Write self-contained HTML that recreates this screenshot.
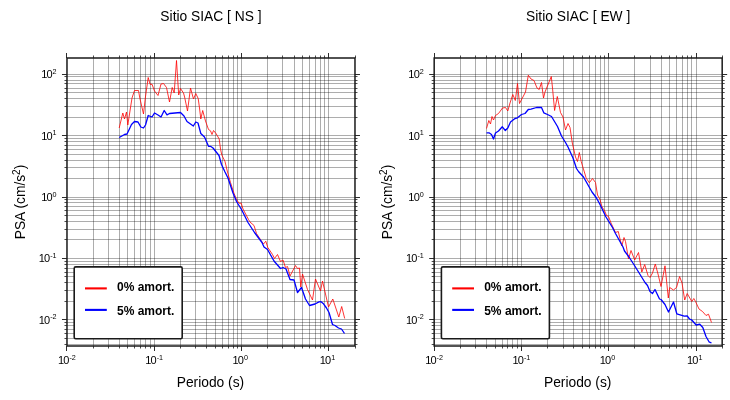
<!DOCTYPE html>
<html><head><meta charset="utf-8"><title>PSA</title>
<style>
html,body{margin:0;padding:0;background:#fff}
svg{display:block}
text{font-family:"Liberation Sans",sans-serif;fill:#000}
.ti{font-size:13.8px}
.tk{font-size:11px}
.sp{font-size:7.2px}
.k{letter-spacing:-0.8px}
.sp2{font-size:10px}
.lg{font-size:12px;font-weight:bold}
</style></head><body>
<svg width="730" height="400" viewBox="0 0 730 400">
<rect width="730" height="400" fill="#fff"/>
<g transform="translate(0,0)">
<path d="M93.50 58.0V346.0M108.50 58.0V346.0M119.50 58.0V346.0M127.50 58.0V346.0M134.50 58.0V346.0M140.50 58.0V346.0M145.50 58.0V346.0M150.50 58.0V346.0M154.50 58.0V346.0M180.50 58.0V346.0M195.50 58.0V346.0M206.50 58.0V346.0M215.50 58.0V346.0M222.50 58.0V346.0M228.50 58.0V346.0M233.50 58.0V346.0M237.50 58.0V346.0M241.50 58.0V346.0M267.50 58.0V346.0M282.50 58.0V346.0M294.50 58.0V346.0M302.50 58.0V346.0M309.50 58.0V346.0M315.50 58.0V346.0M320.50 58.0V346.0M324.50 58.0V346.0M328.50 58.0V346.0" stroke="#000" stroke-opacity="0.32" stroke-width="1" fill="none"/>
<path d="M66.98 344.50H354.98M66.98 338.50H354.98M66.98 333.50H354.98M66.98 329.50H354.98M66.98 325.50H354.98M66.98 322.50H354.98M66.98 319.50H354.98M66.98 301.50H354.98M66.98 290.50H354.98M66.98 282.50H354.98M66.98 276.50H354.98M66.98 272.50H354.98M66.98 268.50H354.98M66.98 264.50H354.98M66.98 261.50H354.98M66.98 258.50H354.98M66.98 239.50H354.98M66.98 229.50H354.98M66.98 221.50H354.98M66.98 215.50H354.98M66.98 210.50H354.98M66.98 206.50H354.98M66.98 202.50H354.98M66.98 199.50H354.98M66.98 197.50H354.98M66.98 178.50H354.98M66.98 167.50H354.98M66.98 160.50H354.98M66.98 154.50H354.98M66.98 149.50H354.98M66.98 145.50H354.98M66.98 141.50H354.98M66.98 138.50H354.98M66.98 135.50H354.98M66.98 117.50H354.98M66.98 106.50H354.98M66.98 98.50H354.98M66.98 92.50H354.98M66.98 88.50H354.98M66.98 83.50H354.98M66.98 80.50H354.98M66.98 76.50H354.98M66.98 74.50H354.98" stroke="#000" stroke-opacity="0.32" stroke-width="1" fill="none"/>
<polyline fill="none" stroke="#f00" stroke-width="0.8" stroke-linejoin="round" points="119.2,128 122.8,113 124.5,119 126.5,112 127.8,125 132,98 134.5,90.5 138.5,90.5 139.8,98 143.5,114 145.3,98 148.2,77.5 150.2,84.5 152,84.2 154.5,91 158,95.5 161,84 163.5,83.5 166.5,87.5 169.5,102 172.2,87.5 174.2,93 176.5,60.5 178.7,95 180.5,88.5 183.5,93 184.6,97 187.5,111 190.5,88 193.5,99 195.8,93.5 198.2,98.5 199.5,108 200.8,119 202.7,110.5 205.5,121 208.5,129.5 210.5,130.8 212,134.5 213.5,130.5 216,133.5 219.2,139 220.5,149 221.8,155 225,161.5 227.5,172 230.5,182.5 233.5,192 236.5,199.5 239,203.2 241.2,203.2 243,209 248.5,219.5 250,222 254,225.5 256.5,233.5 262,242 263.5,244 265.8,241.2 267.8,247.5 272.5,254.5 274.5,258.5 277.5,254.5 280.5,261.5 283,260 285.5,267.5 287.5,266.5 290,276 295.5,265.5 297.5,268.5 299.5,268 300.8,287 302.5,274 307.5,289.5 312.5,300 315.5,279 320.5,291 322.5,281 328.5,307 332.8,299 338.8,317 341.7,306.5 344.7,318.5"/>
<polyline fill="none" stroke="#00f" stroke-width="1.3" stroke-linejoin="round" points="119.2,137.5 124.5,134.5 127,134 131.5,124.5 134.5,121.5 138,122 140.8,127 143.5,128 145.5,125 148.2,115.5 152,117 154.5,113 158,115 161,117 164.2,110.5 167,114.8 169.5,113.5 175,113 180.5,112.5 184,116 187,121.5 190.5,124 193.3,126 195.8,122 198,123 200.8,133.5 204.5,137 208.5,146.3 210.5,146.3 213,148 219,155.5 221.5,164.5 225,172 228,178 233,193 236.5,201.5 241.5,209.5 248,222.5 254.5,232.5 262,242.5 264,247 267.5,249.5 274,261 280.5,268.5 283,267.5 286,269 290,279.5 294,280 297.5,292.5 301.5,287.5 305.5,299 309.5,305.5 315,304 319,301.9 321,301.7 323.5,303.8 326.5,308 329,312.5 332.5,324.5 335,325.5 338.5,328 341.5,329 344.5,333.5"/>
<path d="M66.50 58.0v-5M66.50 346.0v5M154.50 58.0v-5M154.50 346.0v5M241.50 58.0v-5M241.50 346.0v5M328.50 58.0v-5M328.50 346.0v5M66.98 319.50h-5M354.98 319.50h5M66.98 258.50h-5M354.98 258.50h5M66.98 197.50h-5M354.98 197.50h5M66.98 135.50h-5M354.98 135.50h5M66.98 74.50h-5M354.98 74.50h5" stroke="#222" stroke-width="0.95" fill="none"/>
<path d="M93.50 58.0v-2.5M93.50 346.0v2.5M108.50 58.0v-2.5M108.50 346.0v2.5M119.50 58.0v-2.5M119.50 346.0v2.5M127.50 58.0v-2.5M127.50 346.0v2.5M134.50 58.0v-2.5M134.50 346.0v2.5M140.50 58.0v-2.5M140.50 346.0v2.5M145.50 58.0v-2.5M145.50 346.0v2.5M150.50 58.0v-2.5M150.50 346.0v2.5M180.50 58.0v-2.5M180.50 346.0v2.5M195.50 58.0v-2.5M195.50 346.0v2.5M206.50 58.0v-2.5M206.50 346.0v2.5M215.50 58.0v-2.5M215.50 346.0v2.5M222.50 58.0v-2.5M222.50 346.0v2.5M228.50 58.0v-2.5M228.50 346.0v2.5M233.50 58.0v-2.5M233.50 346.0v2.5M237.50 58.0v-2.5M237.50 346.0v2.5M267.50 58.0v-2.5M267.50 346.0v2.5M282.50 58.0v-2.5M282.50 346.0v2.5M294.50 58.0v-2.5M294.50 346.0v2.5M302.50 58.0v-2.5M302.50 346.0v2.5M309.50 58.0v-2.5M309.50 346.0v2.5M315.50 58.0v-2.5M315.50 346.0v2.5M320.50 58.0v-2.5M320.50 346.0v2.5M324.50 58.0v-2.5M324.50 346.0v2.5M355.50 58.0v-2.5M355.50 346.0v2.5M66.98 344.50h-2.5M354.98 344.50h2.5M66.98 338.50h-2.5M354.98 338.50h2.5M66.98 333.50h-2.5M354.98 333.50h2.5M66.98 329.50h-2.5M354.98 329.50h2.5M66.98 325.50h-2.5M354.98 325.50h2.5M66.98 322.50h-2.5M354.98 322.50h2.5M66.98 301.50h-2.5M354.98 301.50h2.5M66.98 290.50h-2.5M354.98 290.50h2.5M66.98 282.50h-2.5M354.98 282.50h2.5M66.98 276.50h-2.5M354.98 276.50h2.5M66.98 272.50h-2.5M354.98 272.50h2.5M66.98 268.50h-2.5M354.98 268.50h2.5M66.98 264.50h-2.5M354.98 264.50h2.5M66.98 261.50h-2.5M354.98 261.50h2.5M66.98 239.50h-2.5M354.98 239.50h2.5M66.98 229.50h-2.5M354.98 229.50h2.5M66.98 221.50h-2.5M354.98 221.50h2.5M66.98 215.50h-2.5M354.98 215.50h2.5M66.98 210.50h-2.5M354.98 210.50h2.5M66.98 206.50h-2.5M354.98 206.50h2.5M66.98 202.50h-2.5M354.98 202.50h2.5M66.98 199.50h-2.5M354.98 199.50h2.5M66.98 178.50h-2.5M354.98 178.50h2.5M66.98 167.50h-2.5M354.98 167.50h2.5M66.98 160.50h-2.5M354.98 160.50h2.5M66.98 154.50h-2.5M354.98 154.50h2.5M66.98 149.50h-2.5M354.98 149.50h2.5M66.98 145.50h-2.5M354.98 145.50h2.5M66.98 141.50h-2.5M354.98 141.50h2.5M66.98 138.50h-2.5M354.98 138.50h2.5M66.98 117.50h-2.5M354.98 117.50h2.5M66.98 106.50h-2.5M354.98 106.50h2.5M66.98 98.50h-2.5M354.98 98.50h2.5M66.98 92.50h-2.5M354.98 92.50h2.5M66.98 88.50h-2.5M354.98 88.50h2.5M66.98 83.50h-2.5M354.98 83.50h2.5M66.98 80.50h-2.5M354.98 80.50h2.5M66.98 76.50h-2.5M354.98 76.50h2.5" stroke="#383838" stroke-width="0.9" fill="none"/>
<rect x="66.98" y="58.0" width="288.0" height="288.00" fill="none" stroke="#1a1a1a" stroke-width="1.5"/>
<rect x="74.2" y="266.9" width="108" height="71.8" rx="1.5" fill="#fff" stroke="#1a1a1a" stroke-width="1.6"/>
<path d="M85 288.4H106.8" stroke="#f00" stroke-width="2.1"/>
<path d="M85 309.9H106.8" stroke="#00f" stroke-width="2.1"/>
<text x="117" y="290.8" class="lg">0% amort.</text>
<text x="117" y="315.2" class="lg">5% amort.</text>
<text x="57.98" y="364.3" class="tk"><tspan class="k">1</tspan>0<tspan class="sp" dy="-4.4">-2</tspan></text>
<text x="145.25" y="364.3" class="tk"><tspan class="k">1</tspan>0<tspan class="sp" dy="-4.4">-1</tspan></text>
<text x="232.52" y="364.3" class="tk"><tspan class="k">1</tspan>0<tspan class="sp" dy="-4.4">0</tspan></text>
<text x="319.79" y="364.3" class="tk"><tspan class="k">1</tspan>0<tspan class="sp" dy="-4.4">1</tspan></text>
<text x="56.6" y="323.83" class="tk" text-anchor="end"><tspan class="k">1</tspan>0<tspan class="sp" dy="-4.4">-2</tspan></text>
<text x="56.6" y="262.48" class="tk" text-anchor="end"><tspan class="k">1</tspan>0<tspan class="sp" dy="-4.4">-1</tspan></text>
<text x="56.6" y="201.13" class="tk" text-anchor="end"><tspan class="k">1</tspan>0<tspan class="sp" dy="-4.4">0</tspan></text>
<text x="56.6" y="139.78" class="tk" text-anchor="end"><tspan class="k">1</tspan>0<tspan class="sp" dy="-4.4">1</tspan></text>
<text x="56.6" y="78.43" class="tk" text-anchor="end"><tspan class="k">1</tspan>0<tspan class="sp" dy="-4.4">2</tspan></text>
<text x="210.98000000000002" y="21.2" class="ti" text-anchor="middle">Sitio SIAC [ NS ]</text>
<text x="210.48000000000002" y="387" class="ti" text-anchor="middle">Periodo (s)</text>
<text transform="translate(25.2,202.00) rotate(-90)" class="ti" text-anchor="middle">PSA (cm/s<tspan class="sp2" dy="-5">2</tspan><tspan dy="5">)</tspan></text>
</g>
<g transform="translate(367.2,0)">
<path d="M93.30 58.0V346.0M108.30 58.0V346.0M119.30 58.0V346.0M128.30 58.0V346.0M135.30 58.0V346.0M140.30 58.0V346.0M145.30 58.0V346.0M150.30 58.0V346.0M154.30 58.0V346.0M180.30 58.0V346.0M196.30 58.0V346.0M206.30 58.0V346.0M215.30 58.0V346.0M222.30 58.0V346.0M228.30 58.0V346.0M233.30 58.0V346.0M237.30 58.0V346.0M241.30 58.0V346.0M267.30 58.0V346.0M283.30 58.0V346.0M294.30 58.0V346.0M302.30 58.0V346.0M309.30 58.0V346.0M315.30 58.0V346.0M320.30 58.0V346.0M324.30 58.0V346.0M329.30 58.0V346.0" stroke="#000" stroke-opacity="0.32" stroke-width="1" fill="none"/>
<path d="M66.98 344.50H354.98M66.98 338.50H354.98M66.98 333.50H354.98M66.98 329.50H354.98M66.98 325.50H354.98M66.98 322.50H354.98M66.98 319.50H354.98M66.98 301.50H354.98M66.98 290.50H354.98M66.98 282.50H354.98M66.98 276.50H354.98M66.98 272.50H354.98M66.98 268.50H354.98M66.98 264.50H354.98M66.98 261.50H354.98M66.98 258.50H354.98M66.98 239.50H354.98M66.98 229.50H354.98M66.98 221.50H354.98M66.98 215.50H354.98M66.98 210.50H354.98M66.98 206.50H354.98M66.98 202.50H354.98M66.98 199.50H354.98M66.98 197.50H354.98M66.98 178.50H354.98M66.98 167.50H354.98M66.98 160.50H354.98M66.98 154.50H354.98M66.98 149.50H354.98M66.98 145.50H354.98M66.98 141.50H354.98M66.98 138.50H354.98M66.98 135.50H354.98M66.98 117.50H354.98M66.98 106.50H354.98M66.98 98.50H354.98M66.98 92.50H354.98M66.98 88.50H354.98M66.98 83.50H354.98M66.98 80.50H354.98M66.98 76.50H354.98M66.98 74.50H354.98" stroke="#000" stroke-opacity="0.32" stroke-width="1" fill="none"/>
<polyline fill="none" stroke="#f00" stroke-width="0.8" stroke-linejoin="round" points="119.3,128.5 121.6,120.5 123.3,124 124.8,116.5 126.3,120 128.3,115.5 131.3,113.5 135.3,108 138.3,107.5 140.6,111 142.8,103 145.6,94.5 148.1,100.5 150.3,83.5 152.3,103.5 158.3,92 161.1,75.2 163.8,79 166.8,80.5 169.8,88 172.0,89.5 174.3,82.5 176.3,98 177.8,92 184.1,76.5 185.3,88 187.4,110.5 190.1,96.5 193.3,112.5 195.8,117 198.3,130 200.8,123.5 202.8,127.5 205.1,143 208.3,157 210.3,161.5 212.1,152.5 214.0,161.5 218.8,177.5 219.3,178.5 222.1,182.8 225.3,178.5 228.3,182.5 230.3,195 232.8,199.5 234.8,207 237.3,210.5 239.3,215.5 241.3,216.5 243.8,223 248.3,232.5 251.1,231.5 252.8,239 254.6,246 256.8,237.5 258.3,241.5 261.3,259 263.8,250.5 267.5,260 271.3,252.5 274.6,272 277.5,264.5 280.8,275.5 282.8,277.5 285.3,273 288.1,264 290.8,274 293.8,286.5 297.8,265.8 301.1,298 302.5,287.5 306.3,290 309.3,287.5 312.4,276.5 314.8,283 317.5,300 320.0,293.5 324.6,301.5 326.6,298.5 328.3,301.5 331.8,309 335.3,311.5 338.8,315.5 341.3,314.2 344.3,322.5"/>
<polyline fill="none" stroke="#00f" stroke-width="1.3" stroke-linejoin="round" points="119.3,132.8 121.8,132.8 124.3,134.5 126.3,139 128.3,133 131.3,131 135.1,126.8 138.1,130.5 140.6,128 143.3,122 147.8,118.5 150.3,117.8 154.3,114.5 157.8,113.5 161.1,109.5 163.8,109.2 169.3,107.5 174.3,107.5 176.6,112.8 180.3,114.5 184.3,116.5 190.3,126.5 194.3,136 198.3,142.5 200.8,147 205.8,158 209.3,168.5 211.3,171.5 216.3,177 224.8,192 229.3,198 232.8,204.5 238.8,217 245.3,227.5 248.3,233.5 255.8,247 257.3,251 261.8,257 267.3,265.5 277.8,282.5 280.3,285.5 282.8,291.5 285.3,293.5 287.8,289.5 292.3,299 293.8,299.5 297.8,304.5 301.3,312 306.3,302 309.6,313.8 317.0,316.2 320.0,315.8 322.3,319 324.3,319.8 329.0,325 332.6,324.2 335.6,327.5 338.8,336.5 341.8,341.8 344.3,343"/>
<path d="M67.30 58.0v-5M67.30 346.0v5M154.30 58.0v-5M154.30 346.0v5M241.30 58.0v-5M241.30 346.0v5M329.30 58.0v-5M329.30 346.0v5M66.98 319.50h-5M354.98 319.50h5M66.98 258.50h-5M354.98 258.50h5M66.98 197.50h-5M354.98 197.50h5M66.98 135.50h-5M354.98 135.50h5M66.98 74.50h-5M354.98 74.50h5" stroke="#222" stroke-width="0.95" fill="none"/>
<path d="M93.30 58.0v-2.5M93.30 346.0v2.5M108.30 58.0v-2.5M108.30 346.0v2.5M119.30 58.0v-2.5M119.30 346.0v2.5M128.30 58.0v-2.5M128.30 346.0v2.5M135.30 58.0v-2.5M135.30 346.0v2.5M140.30 58.0v-2.5M140.30 346.0v2.5M145.30 58.0v-2.5M145.30 346.0v2.5M150.30 58.0v-2.5M150.30 346.0v2.5M180.30 58.0v-2.5M180.30 346.0v2.5M196.30 58.0v-2.5M196.30 346.0v2.5M206.30 58.0v-2.5M206.30 346.0v2.5M215.30 58.0v-2.5M215.30 346.0v2.5M222.30 58.0v-2.5M222.30 346.0v2.5M228.30 58.0v-2.5M228.30 346.0v2.5M233.30 58.0v-2.5M233.30 346.0v2.5M237.30 58.0v-2.5M237.30 346.0v2.5M267.30 58.0v-2.5M267.30 346.0v2.5M283.30 58.0v-2.5M283.30 346.0v2.5M294.30 58.0v-2.5M294.30 346.0v2.5M302.30 58.0v-2.5M302.30 346.0v2.5M309.30 58.0v-2.5M309.30 346.0v2.5M315.30 58.0v-2.5M315.30 346.0v2.5M320.30 58.0v-2.5M320.30 346.0v2.5M324.30 58.0v-2.5M324.30 346.0v2.5M355.30 58.0v-2.5M355.30 346.0v2.5M66.98 344.50h-2.5M354.98 344.50h2.5M66.98 338.50h-2.5M354.98 338.50h2.5M66.98 333.50h-2.5M354.98 333.50h2.5M66.98 329.50h-2.5M354.98 329.50h2.5M66.98 325.50h-2.5M354.98 325.50h2.5M66.98 322.50h-2.5M354.98 322.50h2.5M66.98 301.50h-2.5M354.98 301.50h2.5M66.98 290.50h-2.5M354.98 290.50h2.5M66.98 282.50h-2.5M354.98 282.50h2.5M66.98 276.50h-2.5M354.98 276.50h2.5M66.98 272.50h-2.5M354.98 272.50h2.5M66.98 268.50h-2.5M354.98 268.50h2.5M66.98 264.50h-2.5M354.98 264.50h2.5M66.98 261.50h-2.5M354.98 261.50h2.5M66.98 239.50h-2.5M354.98 239.50h2.5M66.98 229.50h-2.5M354.98 229.50h2.5M66.98 221.50h-2.5M354.98 221.50h2.5M66.98 215.50h-2.5M354.98 215.50h2.5M66.98 210.50h-2.5M354.98 210.50h2.5M66.98 206.50h-2.5M354.98 206.50h2.5M66.98 202.50h-2.5M354.98 202.50h2.5M66.98 199.50h-2.5M354.98 199.50h2.5M66.98 178.50h-2.5M354.98 178.50h2.5M66.98 167.50h-2.5M354.98 167.50h2.5M66.98 160.50h-2.5M354.98 160.50h2.5M66.98 154.50h-2.5M354.98 154.50h2.5M66.98 149.50h-2.5M354.98 149.50h2.5M66.98 145.50h-2.5M354.98 145.50h2.5M66.98 141.50h-2.5M354.98 141.50h2.5M66.98 138.50h-2.5M354.98 138.50h2.5M66.98 117.50h-2.5M354.98 117.50h2.5M66.98 106.50h-2.5M354.98 106.50h2.5M66.98 98.50h-2.5M354.98 98.50h2.5M66.98 92.50h-2.5M354.98 92.50h2.5M66.98 88.50h-2.5M354.98 88.50h2.5M66.98 83.50h-2.5M354.98 83.50h2.5M66.98 80.50h-2.5M354.98 80.50h2.5M66.98 76.50h-2.5M354.98 76.50h2.5" stroke="#383838" stroke-width="0.9" fill="none"/>
<rect x="66.98" y="58.0" width="288.0" height="288.00" fill="none" stroke="#1a1a1a" stroke-width="1.5"/>
<rect x="74.2" y="266.9" width="108" height="71.8" rx="1.5" fill="#fff" stroke="#1a1a1a" stroke-width="1.6"/>
<path d="M85 288.4H106.8" stroke="#f00" stroke-width="2.1"/>
<path d="M85 309.9H106.8" stroke="#00f" stroke-width="2.1"/>
<text x="117" y="290.8" class="lg">0% amort.</text>
<text x="117" y="315.2" class="lg">5% amort.</text>
<text x="57.98" y="364.3" class="tk"><tspan class="k">1</tspan>0<tspan class="sp" dy="-4.4">-2</tspan></text>
<text x="145.25" y="364.3" class="tk"><tspan class="k">1</tspan>0<tspan class="sp" dy="-4.4">-1</tspan></text>
<text x="232.52" y="364.3" class="tk"><tspan class="k">1</tspan>0<tspan class="sp" dy="-4.4">0</tspan></text>
<text x="319.79" y="364.3" class="tk"><tspan class="k">1</tspan>0<tspan class="sp" dy="-4.4">1</tspan></text>
<text x="56.6" y="323.83" class="tk" text-anchor="end"><tspan class="k">1</tspan>0<tspan class="sp" dy="-4.4">-2</tspan></text>
<text x="56.6" y="262.48" class="tk" text-anchor="end"><tspan class="k">1</tspan>0<tspan class="sp" dy="-4.4">-1</tspan></text>
<text x="56.6" y="201.13" class="tk" text-anchor="end"><tspan class="k">1</tspan>0<tspan class="sp" dy="-4.4">0</tspan></text>
<text x="56.6" y="139.78" class="tk" text-anchor="end"><tspan class="k">1</tspan>0<tspan class="sp" dy="-4.4">1</tspan></text>
<text x="56.6" y="78.43" class="tk" text-anchor="end"><tspan class="k">1</tspan>0<tspan class="sp" dy="-4.4">2</tspan></text>
<text x="210.98000000000002" y="21.2" class="ti" text-anchor="middle">Sitio SIAC [ EW ]</text>
<text x="210.48000000000002" y="387" class="ti" text-anchor="middle">Periodo (s)</text>
<text transform="translate(25.2,202.00) rotate(-90)" class="ti" text-anchor="middle">PSA (cm/s<tspan class="sp2" dy="-5">2</tspan><tspan dy="5">)</tspan></text>
</g>
</svg>
</body></html>
